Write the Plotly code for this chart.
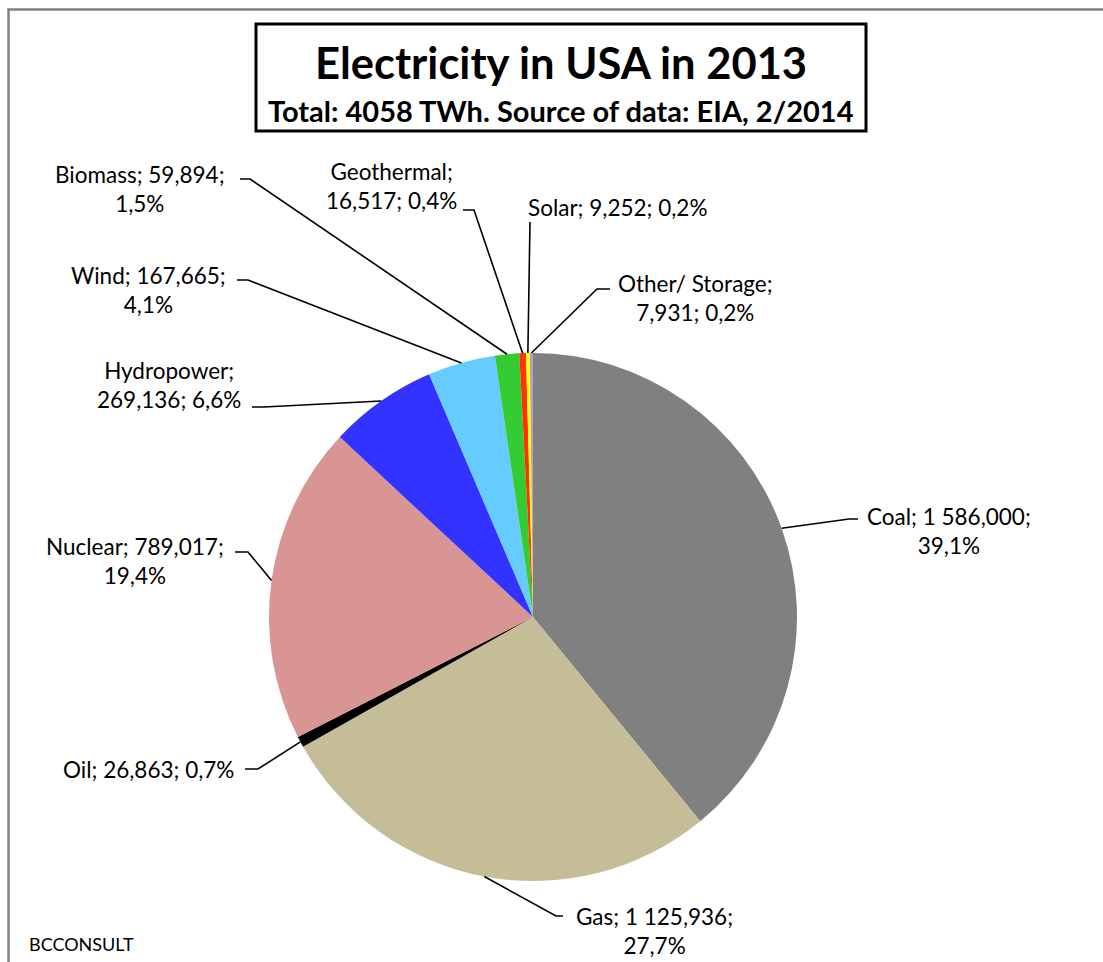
import math
import plotly.graph_objects as go

# ---- data (TWh) ----
sources = ["Coal", "Gas", "Oil", "Nuclear", "Hydropower", "Wind",
           "Biomass", "Geothermal", "Solar", "Other/ Storage"]
values = [1586.000, 1125.936, 26.863, 789.017, 269.136, 167.665,
          59.894, 16.517, 9.252, 7.931]
colors = ["#808080", "#C4BD97", "#000000", "#D99594", "#3333FF", "#66CCFF",
          "#33CC33", "#FF3300", "#FFFF00", "#B3A2C7"]
# where the label text wraps: 'value' = after the value, 'name' = after the name, '' = single line
breaks = ["value", "value", "", "value", "name", "value", "value", "name", "", "name"]

# ---- layout (pixels) ----
W, H = 1103, 962
PIE_X0, PIE_X1, PIE_Y0, PIE_Y1 = 269, 797, 353, 881
# text centre, elbow point, end point next to text
label_pos = {
    "Coal":           dict(t=(949, 531), b=(849, 519), e=(858, 519)),
    "Gas":            dict(t=(654, 931), b=(556, 916), e=(563, 916)),
    "Oil":            dict(t=(148, 769), b=(258, 769), e=(245, 769)),
    "Nuclear":        dict(t=(135, 561), b=(248, 552), e=(235, 552)),
    "Hydropower":     dict(t=(169, 385), b=(264, 407), e=(252, 407)),
    "Wind":           dict(t=(148, 290), b=(248, 280), e=(237, 280)),
    "Biomass":        dict(t=(140, 189), b=(250, 179), e=(240, 179)),
    "Geothermal":     dict(t=(391, 186), b=(474, 210), e=(463, 210)),
    "Solar":          dict(t=(617, 207), b=(530, 222), e=(530, 222)),
    "Other/ Storage": dict(t=(695, 298), b=(597, 289), e=(610, 289)),
}

FONT = "Lato"


def px(x):
    return x / W


def py(y):
    return 1 - y / H


def fmt_num(v):
    s = f"{v:,.3f}"
    return s.replace(",", " ").replace(".", ",")


def fmt_pct(p):
    return f"{p:.1f}".replace(".", ",") + "%"


total = sum(values)

fig = go.Figure(go.Pie(
    labels=sources, values=values, sort=False, direction="clockwise",
    rotation=0, textinfo="none", hoverinfo="label+value+percent",
    marker=dict(colors=colors, line=dict(width=0)),
    domain=dict(x=[px(PIE_X0), px(PIE_X1)], y=[py(PIE_Y1), py(PIE_Y0)]),
    showlegend=False,
))

cx = (PIE_X0 + PIE_X1) / 2
cy = (PIE_Y0 + PIE_Y1) / 2
r = (PIE_X1 - PIE_X0) / 2

shapes = []
annotations = []
cum = 0.0
for name, v, br in zip(sources, values, breaks):
    frac_mid = (cum + v / 2) / total
    cum += v
    th = 2 * math.pi * frac_mid
    sx = cx + r * math.sin(th)
    sy = cy - r * math.cos(th)
    lp = label_pos[name]
    (bx, by), (ex, ey), (tx, ty) = lp["b"], lp["e"], lp["t"]
    path = f"M {px(sx)} {py(sy)} L {px(bx)} {py(by)} L {px(ex)} {py(ey)}"
    shapes.append(dict(type="path", path=path, xref="paper", yref="paper",
                       line=dict(color="black", width=1.6)))
    num = fmt_num(v)
    pct = fmt_pct(100 * v / total)
    if br == "value":
        txt = f"{name}; {num};<br>{pct}"
    elif br == "name":
        txt = f"{name};<br>{num}; {pct}"
    else:
        txt = f"{name}; {num}; {pct}"
    annotations.append(dict(x=px(tx), y=py(ty), xref="paper", yref="paper",
                            text=txt, showarrow=False, align="center",
                            xanchor="center", yanchor="middle",
                            font=dict(family=FONT, size=22.5, color="black")))

# outer chart border (left/top visible)
shapes.append(dict(type="rect", xref="paper", yref="paper",
                   x0=px(8.5), x1=px(1110), y0=py(1000), y1=py(9.5),
                   line=dict(color="#808080", width=2.5), fillcolor="rgba(0,0,0,0)"))
# title box
shapes.append(dict(type="rect", xref="paper", yref="paper",
                   x0=px(256), x1=px(866), y0=py(131), y1=py(24),
                   line=dict(color="black", width=3), fillcolor="white"))

annotations.append(dict(x=px(561), y=py(62), xref="paper", yref="paper",
                        text="<b>Electricity in USA in 2013</b>", showarrow=False,
                        xanchor="center", yanchor="middle",
                        font=dict(family=FONT, size=43.5, color="black")))
annotations.append(dict(x=px(561), y=py(110), xref="paper", yref="paper",
                        text="<b>Total: 4058 TWh. Source of data: EIA, 2/2014</b>",
                        showarrow=False, xanchor="center", yanchor="middle",
                        font=dict(family=FONT, size=29, color="black")))
annotations.append(dict(x=px(27), y=py(944), xref="paper", yref="paper",
                        text="BCCONSULT", showarrow=False,
                        xanchor="left", yanchor="middle",
                        font=dict(family=FONT, size=18, color="black")))

fig.update_layout(
    width=W, height=H, margin=dict(l=0, r=0, t=0, b=0),
    paper_bgcolor="white", plot_bgcolor="white",
    shapes=shapes, annotations=annotations,
)

fig.write_html("out.html", config={"displayModeBar": False},
               post_script="document.body.style.margin='0';document.body.style.overflow='hidden';")
